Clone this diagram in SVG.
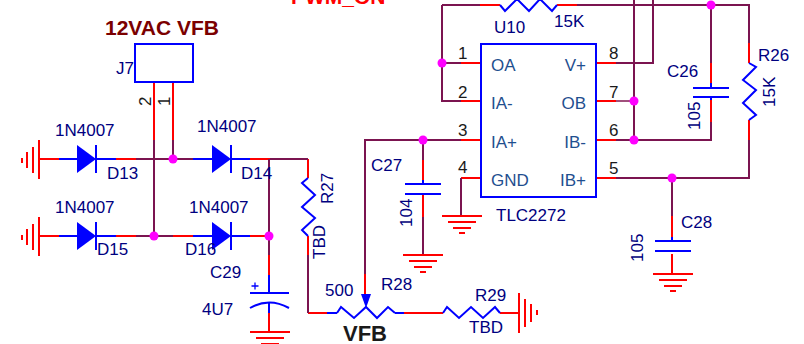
<svg xmlns="http://www.w3.org/2000/svg" width="804" height="344" viewBox="0 0 804 344">
<defs>
<style>
text{font-family:"Liberation Sans",Arial,sans-serif;font-size:17px;fill:#000080}
.w{fill:none;stroke-width:2;stroke-linejoin:miter}
.r{stroke:#ff0000}.b{stroke:#0000ff}.p{stroke:#7b1450}.l{stroke:#a0507c}
.n{fill:#ff00ff}
.d{fill:#0000ff}
.k{fill:#1a1a1a}
.i{fill:#1f4f8f}
</style>
<g id="gndV"><path class="w r" d="M0 0H40M6 6H34M11 12H29M17 17H23"/></g>
<g id="gndL"><path class="w r" d="M0 0V39M-6 7V33M-12 12V28M-17 18V23"/></g>
<g id="gndR"><path class="w r" d="M0 0V40M6 6V34M12 11V29M18 17V22"/></g>
<g id="diode"><path class="d" d="M0 -14L0 14L19 0Z"/><path class="w b" d="M19 -14V14"/></g>
</defs>
<rect width="804" height="344" fill="#ffffff"/>
<g id="connectors">
<path class="w r" d="M154 82V140M173 82V140M39 159H59M116 159H136M180 159H193M250 159H270M308 159V178M39 236H59M116 236H136M173 236H193M250 236H269M269 255V275M269 313V332M308 236V255M308 313H327M404 313H443M500 313H519M365 274V295M423 160V180M423 194V217M461 140H481M461 63H481M461 101H481M461 178H481M480 5H500M557 5H577M596 63H616M596 101H616M596 140H616M596 178H616M711 63V83M711 100V122M749 43V63M749 120V140M672 216V237M672 254V274"/>
<path class="w b" d="M59 159H77M96 159H116M193 159H212M231 159H250M59 236H77M96 236H116M193 236H212M231 236H250M269 275V293M269 303V313M327 313H337M395 313H404M423 180V184M672 237V241M711 83V88M711 97V100"/>
<path class="w p" d="M154 140V236M173 140V159M136 159H193M270 159H308M269 159V255M136 236H173M308 255V313M365 274V140H461M461 178V216M423 140V160M423 217V255M442 5V101H461M442 63H461M442 5H480M577 5H749V43M711 5V63M711 122V140H616M616 178H749V140M653 0V63H616M634 0V140M672 178V216"/>
<path class="w l" d="M616 101H634"/>
</g>
<g id="J7">
<rect class="w b" x="135" y="44" width="58" height="38"/>
<text x="116" y="74">J7</text>
<text class="k" transform="translate(151,106) rotate(-90)">2</text>
<text class="k" transform="translate(170,106) rotate(-90)">1</text>
</g>
<g id="title"><text x="105" y="35" style="font-size:21px;font-weight:bold;fill:#7b0000">12VAC VFB</text></g>
<g id="pwm"><text x="291" y="4" style="font-size:21px;font-weight:bold;fill:#ff0000">PWM_ON</text></g>
<g id="GND1"><use href="#gndL" x="39" y="140"/></g>
<g id="GND2"><use href="#gndL" x="39" y="217"/></g>
<g id="D13"><use href="#diode" x="77" y="159"/><text x="55" y="136">1N4007</text><text x="107" y="179">D13</text></g>
<g id="D14"><use href="#diode" x="212" y="159"/><text x="197" y="132">1N4007</text><text x="241" y="179">D14</text></g>
<g id="D15"><use href="#diode" x="77" y="236"/><text x="55" y="213">1N4007</text><text x="97" y="255">D15</text></g>
<g id="D16"><use href="#diode" x="212" y="236"/><text x="189" y="213">1N4007</text><text x="185" y="255">D16</text></g>
<g id="C29">
<path class="w b" d="M250 293H289M250 308Q269 297 289 308"/>
<path class="b" fill="none" stroke-width="1.3" d="M251.500 286H258.500M255 282.500V289.500"/>
<text x="210" y="278">C29</text><text x="202" y="315">4U7</text>
<use href="#gndV" x="250" y="332"/>
</g>
<g id="R27">
<path class="w b" d="M308 178L302 183L315 195L302 207L315 218L302 230L308 236"/>
<text transform="translate(333,204) rotate(-90)">R27</text>
<text transform="translate(325,259) rotate(-90)">TBD</text>
</g>
<g id="R28">
<path class="w b" d="M337 313L341 307L354 318L366 307L377 318L388 307L395 313"/>
<path class="d" d="M361 294H371L366 308Z"/>
<text x="325" y="296">500</text><text x="381" y="290">R28</text>
<text x="343" y="341" style="font-size:22px;font-weight:bold;fill:#1a1a1a">VFB</text>
</g>
<g id="R29">
<path class="w b" d="M443 313L447 307L459 318L471 307L483 318L495 307L500 313"/>
<text x="475" y="301">R29</text><text x="469" y="333">TBD</text>
<use href="#gndR" x="519" y="293"/>
</g>
<g id="C27">
<path class="w b" d="M405 184H441M405 194H441"/>
<text x="371" y="171">C27</text>
<text transform="translate(412,227) rotate(-90)">104</text>
<use href="#gndV" x="403" y="255"/>
</g>
<g id="GND4"><use href="#gndV" x="442" y="216"/></g>
<g id="U10">
<rect class="w b" x="481" y="44" width="115" height="153"/>
<path class="w b" d="M500 5L505 11L517 -1L529 11L540 -1L552 11L557 5"/>
<text x="494" y="33">U10</text><text x="554" y="27">15K</text><text x="496" y="221">TLC2272</text>
<text class="i" x="491" y="71">OA</text><text class="i" x="491" y="109">IA-</text><text class="i" x="491" y="148">IA+</text><text class="i" x="491" y="186">GND</text>
<text class="i" x="586" y="71" text-anchor="end">V+</text><text class="i" x="586" y="109" text-anchor="end">OB</text><text class="i" x="586" y="148" text-anchor="end">IB-</text><text class="i" x="586" y="186" text-anchor="end">IB+</text>
<text class="k" x="458" y="59">1</text><text class="k" x="458" y="98">2</text><text class="k" x="458" y="136">3</text><text class="k" x="458" y="173">4</text>
<text class="k" x="609" y="59">8</text><text class="k" x="609" y="98">7</text><text class="k" x="609" y="136">6</text><text class="k" x="609" y="174">5</text>
</g>
<g id="C26">
<path class="w b" d="M693 88H729M693 97H729"/>
<text x="667" y="77">C26</text>
<text transform="translate(700,130) rotate(-90)">105</text>
</g>
<g id="R26">
<path class="w b" d="M749 63L756 67L743 80L756 90L743 103L756 115L749 120"/>
<text x="758" y="61">R26</text>
<text transform="translate(775,107) rotate(-90)">15K</text>
</g>
<g id="C28">
<path class="w b" d="M655 241H691M655 251H691"/>
<text x="681" y="228">C28</text>
<text transform="translate(643,262) rotate(-90)">105</text>
<use href="#gndV" x="653" y="274"/>
</g>
<g id="junctions">
<circle class="n" cx="173" cy="159" r="4.500"/><circle class="n" cx="154" cy="236" r="4.500"/><circle class="n" cx="269" cy="236" r="4.500"/><circle class="n" cx="423" cy="140" r="4.500"/><circle class="n" cx="442" cy="63" r="4.500"/><circle class="n" cx="711" cy="5" r="4.500"/><circle class="n" cx="634" cy="101" r="4.500"/><circle class="n" cx="634" cy="140" r="4.500"/><circle class="n" cx="672" cy="178" r="4.500"/>
</g>
</svg>
